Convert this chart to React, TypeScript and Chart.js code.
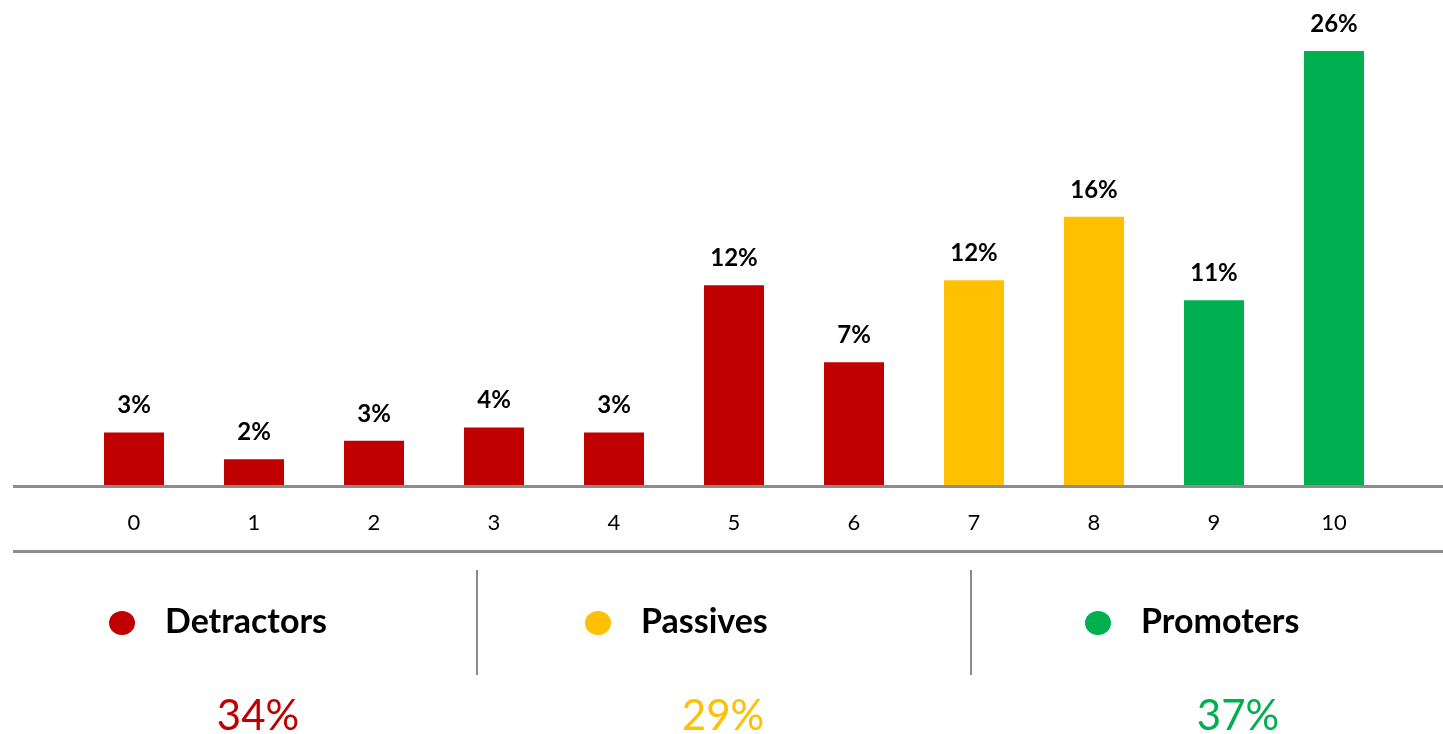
import React, { useEffect, useRef } from "react";
import { Chart, registerables } from "chart.js";

Chart.register(...registerables);

const scores = ["0", "1", "2", "3", "4", "5", "6", "7", "8", "9", "10"];
const shares = [3.2, 1.6, 2.7, 3.5, 3.2, 12.0, 7.4, 12.3, 16.1, 11.1, 26.0];
const shareLabels = ["3%", "2%", "3%", "4%", "3%", "12%", "7%", "12%", "16%", "11%", "26%"];
const groupOfScore = [0, 0, 0, 0, 0, 0, 0, 1, 1, 2, 2];
const groupNames = ["Detractors", "Passives", "Promoters"];
const groupTotals = ["34%", "29%", "37%"];
const groupColors = ["#C00000", "#FFC000", "#00B050"];

const FONT = "Lato, 'Noto Sans', sans-serif";
const W = 1443;
const H = 734;

const overlayPlugin = {
  id: "overlay",
  afterDatasetsDraw(chart: any) {
    const ctx = chart.ctx as CanvasRenderingContext2D;
    const meta = chart.getDatasetMeta(0);
    const xs = chart.scales.x;
    const area = chart.chartArea;
    ctx.save();
    // value labels
    ctx.fillStyle = "#000";
    ctx.font = `bold 24px ${FONT}`;
    ctx.textAlign = "center";
    ctx.textBaseline = "alphabetic";
    meta.data.forEach((bar: any, i: number) => {
      ctx.fillText(shareLabels[i], bar.x, bar.y - 19);
    });
    // axis lines
    ctx.strokeStyle = "#8C8C8C";
    ctx.lineWidth = 3;
    ctx.beginPath();
    ctx.moveTo(13, area.bottom + 0.5);
    ctx.lineTo(W, area.bottom + 0.5);
    ctx.moveTo(13, area.bottom + 65.5);
    ctx.lineTo(W, area.bottom + 65.5);
    ctx.stroke();
    // tick labels
    ctx.font = `22px ${FONT}`;
    ctx.fillStyle = "#000";
    ctx.textBaseline = "middle";
    scores.forEach((s, i) => {
      ctx.fillText(s, xs.getPixelForValue(i), area.bottom + 37);
    });
    // separators
    ctx.strokeStyle = "#8C8C8C";
    ctx.lineWidth = 2;
    ctx.beginPath();
    [477, 971].forEach((x) => {
      ctx.moveTo(x, 570);
      ctx.lineTo(x, 675);
    });
    ctx.stroke();
    // legend groups
    const dotX = [122, 598, 1098];
    const totalX = [258, 723, 1238];
    groupNames.forEach((name, g) => {
      ctx.fillStyle = groupColors[g];
      ctx.beginPath();
      ctx.ellipse(dotX[g], 623, 13, 12, 0, 0, Math.PI * 2);
      ctx.fill();
      ctx.fillStyle = "#000";
      ctx.font = `bold 34px ${FONT}`;
      ctx.textAlign = "left";
      ctx.textBaseline = "middle";
      ctx.fillText(name, dotX[g] + 43, 622);
      ctx.fillStyle = groupColors[g];
      ctx.font = `42px ${FONT}`;
      ctx.textAlign = "center";
      ctx.fillText(groupTotals[g], totalX[g], 716);
    });
    ctx.restore();
  },
};

export default function App() {
  const ref = useRef<HTMLCanvasElement | null>(null);
  useEffect(() => {
    if (!ref.current) return;
    const chart = new Chart(ref.current, {
      type: "bar",
      data: {
        labels: scores,
        datasets: [
          {
            data: shares,
            backgroundColor: groupOfScore.map((g) => groupColors[g]),
            barPercentage: 0.5,
            categoryPercentage: 1,
          },
        ],
      },
      options: {
        animation: false,
        responsive: false,
        maintainAspectRatio: false,
        layout: { padding: { left: 74, right: 49, top: 0, bottom: 248 } },
        plugins: { legend: { display: false }, tooltip: { enabled: false } },
        scales: {
          x: { display: false },
          y: { display: false, min: 0, max: 29.05 },
        },
      },
      plugins: [overlayPlugin],
    });
    return () => chart.destroy();
  }, []);
  return (
    <div style={{ position: "fixed", left: 0, top: 0, width: W, height: H, background: "#fff" }}>
      <canvas ref={ref} width={W} height={H} style={{ width: W, height: H }} />
    </div>
  );
}
